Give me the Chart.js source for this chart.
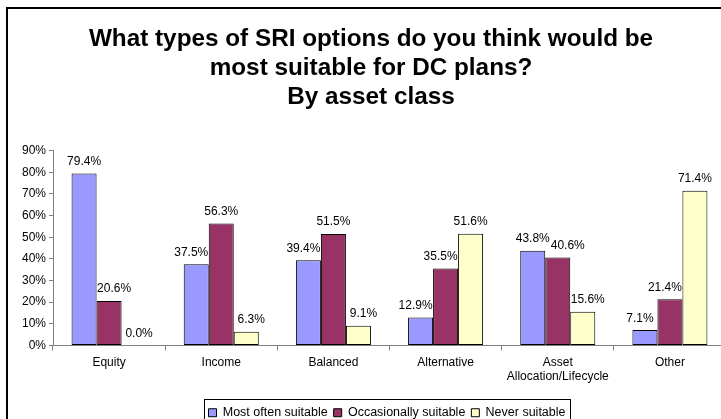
<!DOCTYPE html>
<html>
<head>
<meta charset="utf-8">
<script src="https://cdn.jsdelivr.net/npm/chart.js@4.4.1/dist/chart.umd.min.js"></script>
<style>
  html, body { margin: 0; padding: 0; background: #fff; overflow: hidden; }
  #wrap { position: absolute; left: 0; top: 0; width: 760px; height: 440px; }
</style>
</head>
<body>
<div id="wrap"><canvas id="chart" width="760" height="440"></canvas></div>
<script>
// chart data
const categories = ['Equity', 'Income', 'Balanced', 'Alternative', ['Asset', 'Allocation/Lifecycle'], 'Other'];
const mostOften = [79.4, 37.5, 39.4, 12.9, 43.8, 7.1];
const occasionally = [20.6, 56.3, 51.5, 35.5, 40.6, 21.4];
const never = [0.0, 6.3, 9.1, 51.6, 15.6, 71.4];
const seriesNames = ['Most often suitable', 'Occasionally suitable', 'Never suitable'];
const seriesColors = ['#9999FF', '#993366', '#FFFFCC'];
const yMax = 90;
const yStep = 10;
const titleLines = ['What types of SRI options do you think would be', 'most suitable for DC plans?', 'By asset class'];

const FONT = '"Liberation Sans", Arial, sans-serif';
Chart.defaults.font.family = FONT;
Chart.defaults.color = '#000';

// outer frame + white background
const framePlugin = {
    id: 'frame',
    beforeDraw(chart) {
        const ctx = chart.ctx;
        ctx.save();
        ctx.fillStyle = '#fff';
        ctx.fillRect(0, 0, chart.width, chart.height);
        ctx.strokeStyle = '#000';
        ctx.lineWidth = 2;
        ctx.strokeRect(7, 8, chart.width, chart.height);
        ctx.restore();
    }
};

// title and legend in the original are not centred on the plot
const shiftPlugin = {
    id: 'shiftBlocks',
    afterLayout(chart) {
        const t = chart.titleBlock, l = chart.legend;
        if (t) { t.left += 8; t.right += 8; }
        if (l) { l.left += 24; l.right += 24; }
    }
};

// border round the legend
const legendBoxPlugin = {
    id: 'legendBox',
    afterDraw(chart) {
        const boxes = chart.legend && chart.legend.legendHitBoxes;
        if (!boxes || !boxes.length) return;
        const first = boxes[0], last = boxes[boxes.length - 1];
        const ctx = chart.ctx;
        ctx.save();
        ctx.strokeStyle = '#000';
        ctx.lineWidth = 1;
        const x0 = Math.round(first.left - 5) + 0.5;
        const x1 = Math.round(last.left + last.width + 5) + 0.5;
        const y0 = Math.round(first.top - 8) + 0.5;
        const y1 = Math.round(first.top + first.height + 7) + 0.5;
        ctx.strokeRect(x0, y0, x1 - x0, y1 - y0);
        ctx.restore();
    }
};

// value labels above bars, nudged away from a taller neighbour like Excel does
const valueLabelPlugin = {
    id: 'valueLabels',
    afterDatasetsDraw(chart) {
        const ctx = chart.ctx;
        ctx.save();
        ctx.font = '12px ' + FONT;
        ctx.fillStyle = '#000';
        ctx.textAlign = 'left';
        ctx.textBaseline = 'alphabetic';
        const n = chart.data.labels.length;
        const sets = chart.data.datasets;
        for (let i = 0; i < n; i++) {
            let prev = null;
            sets.forEach((ds, d) => {
                const bar = chart.getDatasetMeta(d).data[i];
                const v = ds.data[i];
                const txt = v.toFixed(1) + '%';
                const w = ctx.measureText(txt).width;
                let shift = 0;
                if (d > 0 && sets[d - 1].data[i] > v) shift += 5;
                if (d < sets.length - 1 && sets[d + 1].data[i] > v) shift -= 5;
                let left = bar.x + shift - w / 2;
                const base = bar.y - 8.5;
                if (prev && left < prev.right + 1 && Math.abs(prev.base - base) < 11) {
                    left = prev.right + 1;
                }
                ctx.fillText(txt, left, base);
                prev = { right: left + w, base };
            });
        }
        ctx.restore();
    }
};

new Chart(document.getElementById('chart'), {
    type: 'bar',
    data: {
        labels: categories,
        datasets: [mostOften, occasionally, never].map((vals, k) => ({
            label: seriesNames[k],
            data: vals,
            backgroundColor: seriesColors[k],
            borderColor: '#000',
            borderWidth: 1,
            borderSkipped: false,
            categoryPercentage: 0.669,
            barPercentage: 1
        }))
    },
    options: {
        responsive: false,
        animation: false,
        devicePixelRatio: 1,
        layout: { padding: { left: 0, right: 34, top: 0, bottom: 11 } },
        plugins: {
            title: {
                display: true,
                text: titleLines,
                color: '#000',
                font: { size: 24.3, weight: 'bold', lineHeight: 1.2 },
                padding: { top: 24.5, bottom: 38.6 }
            },
            legend: {
                position: 'bottom',
                labels: {
                    boxWidth: 8,
                    boxHeight: 8,
                    padding: 6,
                    color: '#000',
                    font: { size: 12.5 }
                }
            },
            tooltip: { enabled: false }
        },
        scales: {
            x: {
                grid: { offset: true, drawOnChartArea: false, drawTicks: true, tickLength: 5, color: '#808080' },
                border: { color: '#808080', width: 1 },
                ticks: { font: { size: 12 }, color: '#000', padding: 5, maxRotation: 0, autoSkip: false },
                afterFit(scale) { scale.height = 55; }
            },
            y: {
                min: 0,
                max: yMax,
                grid: { drawOnChartArea: false, drawTicks: true, tickLength: 4, color: '#808080' },
                border: { color: '#808080', width: 1 },
                ticks: {
                    stepSize: yStep,
                    font: { size: 12 },
                    color: '#000',
                    padding: 3,
                    callback: v => v + '%'
                },
                afterFit(scale) { scale.width = 53; }
            }
        }
    },
    plugins: [framePlugin, shiftPlugin, legendBoxPlugin, valueLabelPlugin]
});
</script>
</body>
</html>
